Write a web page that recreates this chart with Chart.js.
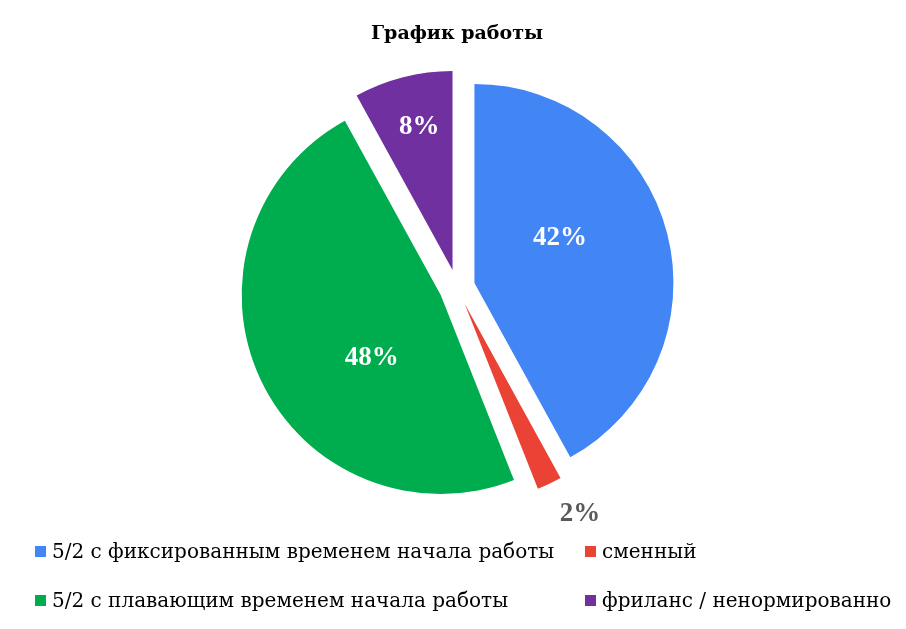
<!DOCTYPE html>
<html>
<head>
<meta charset="utf-8">
<script src="https://cdn.jsdelivr.net/npm/chart.js@4.4.0/dist/chart.umd.min.js"></script>
<style>
  html, body { margin: 0; padding: 0; background: #fff; }
  #wrap { position: relative; width: 906px; height: 629px; }
  #legend {
    position: absolute; left: 35px; top: 538px;
    display: grid; grid-template-columns: 550px auto; row-gap: 23px;
    font-family: "DejaVu Serif", serif; font-size: 20px; color: #000;
  }
  .item { display: flex; align-items: center; height: 26px; white-space: nowrap; }
  .box { width: 11px; height: 11px; margin-right: 6px; flex: none; }
</style>
</head>
<body>
<div id="wrap">
  <canvas id="pie" width="906" height="629"></canvas>
  <div id="legend"></div>
</div>
<script>
const TITLE = "График работы";
const labels = [
    "5/2 с фиксированным временем начала работы",
    "сменный",
    "5/2 с плавающим временем начала работы",
    "фриланс / ненормированно"
];
const values = [42, 2, 48, 8];
const colors = ["#4285F4", "#EA4335", "#00AD4E", "#7030A0"];

// где рисовать подписи: доля угла сектора и доля радиуса (от вершины сектора)
const labelSpots = [
    { t: 0.412, r: 0.486, color: "#fff" },
    { t: 0.01,  r: 1.205, color: "#595959" },
    { t: 0.401, r: 0.469, color: "#fff" },
    { t: 0.545, r: 0.735, color: "#fff" }
];

const SHIFT = 18; // на сколько пикселей выдвинут каждый сектор

// Выдвигаем секторы сами: штатный offset ещё и увеличивает радиус
const explode = {
    id: "explode",
    afterDatasetUpdate(chart, args) {
        args.meta.data.forEach(arc => {
            const mid = (arc.startAngle + arc.endAngle) / 2;
            arc.x += Math.cos(mid) * SHIFT;
            arc.y += Math.sin(mid) * SHIFT;
        });
    }
};

const pctLabels = {
    id: "pctLabels",
    afterDatasetsDraw(chart) {
        const ctx = chart.ctx;
        const meta = chart.getDatasetMeta(0);
        ctx.save();
        ctx.font = "bold 27px 'Liberation Serif', serif";
        ctx.textAlign = "center";
        ctx.textBaseline = "middle";
        meta.data.forEach((arc, i) => {
            const spot = labelSpots[i];
            const a = arc.startAngle + spot.t * (arc.endAngle - arc.startAngle);
            const rr = arc.outerRadius * spot.r;
            ctx.fillStyle = spot.color;
            ctx.fillText(values[i] + "%", arc.x + Math.cos(a) * rr, arc.y + Math.sin(a) * rr);
        });
        ctx.restore();
    }
};

const chart = new Chart(document.getElementById("pie"), {
    type: "pie",
    data: {
        labels,
        datasets: [{
            data: values,
            backgroundColor: colors,
            borderWidth: 0,
            hoverOffset: 0
        }]
    },
    options: {
        responsive: false,
        animation: false,
        radius: 199,
        layout: { padding: { left: 8, right: 0, top: 2, bottom: 109 } },
        plugins: {
            legend: { display: false },
            tooltip: { enabled: false },
            title: {
                display: true,
                text: TITLE,
                color: "#000",
                font: { family: "'DejaVu Serif', serif", size: 19, weight: "bold", lineHeight: 1.2 },
                padding: { top: 21, bottom: 9 }
            }
        }
    },
    plugins: [explode, pctLabels]
});

// Легенда в две колонки
document.getElementById("legend").innerHTML = labels
    .map((l, i) => `<div class="item"><span class="box" style="background:${colors[i]}"></span>${l}</div>`)
    .join("");
</script>
</body>
</html>
